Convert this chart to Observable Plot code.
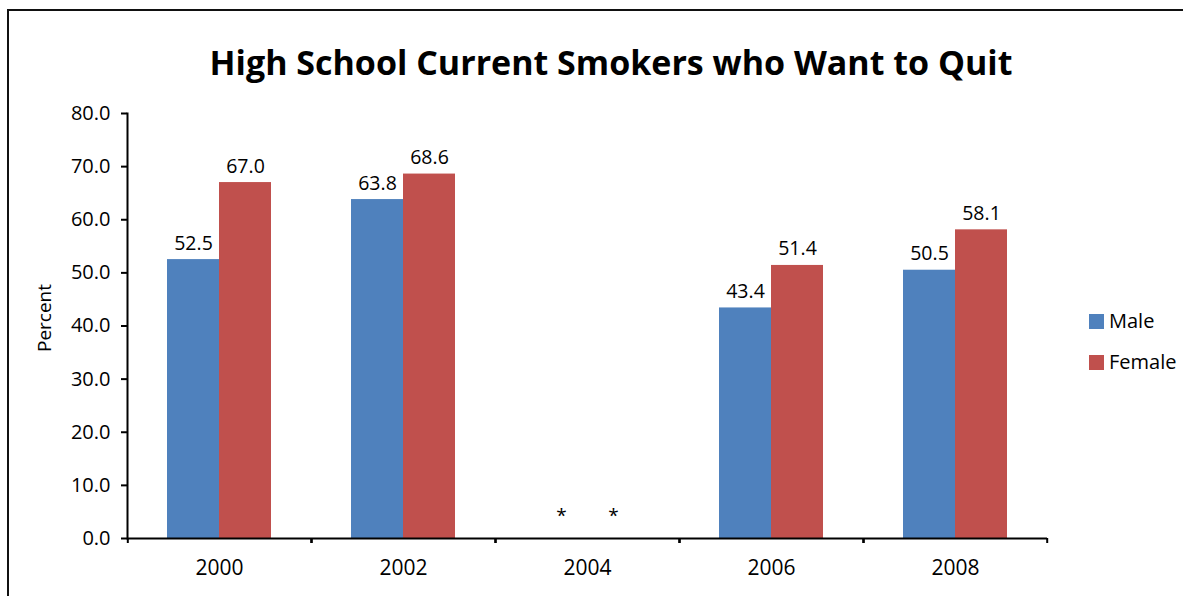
<!DOCTYPE html>
<html>
<head>
<meta charset="utf-8">
<script src="https://cdn.jsdelivr.net/npm/d3@7"></script>
<script src="https://cdn.jsdelivr.net/npm/@observablehq/plot@0.6"></script>
<style>
  html, body { margin: 0; padding: 0; background: #fff; }
  #chart {
    position: relative;
    width: 1183px;
    height: 596px;
    overflow: hidden;
    background: #fff;
    font-family: "Open Sans", "Noto Sans", sans-serif;
    color: #000;
  }
  #chart .frame {
    position: absolute;
    left: 7px;
    top: 9px;
    width: 1300px;
    height: 700px;
    border: 2px solid #111;
    box-sizing: border-box;
  }
  #chart svg { position: absolute; left: 0; top: 0; }
  #chart .title {
    position: absolute;
    left: 611px;
    top: 39px;
    transform: translateX(-50%);
    white-space: nowrap;
    font-size: 34px;
    font-weight: 700;
    line-height: normal;
  }
  #chart .ylabel {
    position: absolute;
    left: -6px;
    top: 305px;
    width: 100px;
    text-align: center;
    font-size: 19px;
    line-height: 26px;
    transform: rotate(-90deg);
    transform-origin: 50% 50%;
  }
  #chart .legend-item {
    position: absolute;
    left: 1089px;
    display: flex;
    align-items: center;
    font-size: 20px;
    line-height: 27px;
    white-space: nowrap;
  }
  #chart .legend-item .swatch {
    width: 15px;
    height: 15px;
    margin-right: 5px;
    margin-top: 1px;
  }
</style>
</head>
<body>
<div id="chart">
  <div class="frame"></div>
  <div class="title">High School Current Smokers who Want to Quit</div>
  <div class="ylabel">Percent</div>
</div>
<script>
// Survey years and the two series (values in percent; 2004 not reported)
const years = ["2000", "2002", "2004", "2006", "2008"];
const series = ["Male", "Female"];
const maleValues = [52.5, 63.8, null, 43.4, 50.5];
const femaleValues = [67.0, 68.6, null, 51.4, 58.1];
const seriesColors = ["#4F81BD", "#C0504D"];
const yTicks = [0, 10, 20, 30, 40, 50, 60, 70, 80];
const missingMark = "*";

const rows = years.flatMap((year, i) => [
  {year, sex: series[0], value: maleValues[i]},
  {year, sex: series[1], value: femaleValues[i]}
]);
const reported = rows.filter(d => d.value != null);
const unreported = rows.filter(d => d.value == null);

// Layout
const W = 1183, H = 596;
const margin = {top: 113, right: 135, bottom: 58, left: 126};
const barWidth = 53;
const facetWidth = (W - margin.left - margin.right) / years.length;
const xPadOuter = (facetWidth / barWidth - series.length) / 2;
const edgeOffset = (facetWidth - barWidth) / 2;

const chart = Plot.plot({
  width: W,
  height: H,
  marginTop: margin.top,
  marginRight: margin.right,
  marginBottom: margin.bottom,
  marginLeft: margin.left,
  style: {
    fontFamily: "'Open Sans', 'Noto Sans', sans-serif",
    fontSize: "19px",
    color: "#000",
    background: "transparent",
    overflow: "visible"
  },
  fx: {domain: years, padding: 0, axis: null, label: null},
  x: {domain: series, paddingInner: 0, paddingOuter: xPadOuter, axis: null, label: null},
  y: {domain: [0, 80], label: null},
  color: {domain: series, range: seriesColors},
  marks: [
    Plot.barY(reported, {fx: "year", x: "sex", y: "value", fill: "sex"}),
    Plot.text(reported, {
      fx: "year", x: "sex", y: "value",
      text: d => d.value.toFixed(1),
      lineAnchor: "bottom", dy: -10, fill: "#000", fontSize: 19.5
    }),
    Plot.text(unreported, {
      fx: "year", x: "sex", y: () => 0,
      text: () => missingMark,
      lineAnchor: "bottom", dy: -17, fill: "#000", fontSize: 19
    }),
    Plot.ruleY([0], {stroke: "#000", strokeWidth: 2}),
    Plot.frame({anchor: "left", stroke: "#000", strokeWidth: 2, facetAnchor: "left"}),
    // category boundary ticks below the baseline
    Plot.ruleX([series[0]], {x: d => d, y1: 0, y2: 0, insetBottom: -5, dx: -edgeOffset, stroke: "#000", strokeWidth: 2}),
    Plot.ruleX([series[1]], {x: d => d, y1: 0, y2: 0, insetBottom: -5, dx: edgeOffset, stroke: "#000", strokeWidth: 2}),
    Plot.axisY({
      ticks: yTicks,
      tickFormat: d => d.toFixed(1),
      tickSize: 6,
      tickPadding: 11,
      strokeWidth: 2,
      fontSize: 20,
      label: null
    }),
    Plot.axisFx({anchor: "bottom", tickSize: 0, tickPadding: 22, fontSize: 21, label: null})
  ]
});

const root = document.getElementById("chart");
root.appendChild(chart);

// Legend
const legendTops = [307, 348];
series.forEach((name, i) => {
  const item = document.createElement("div");
  item.className = "legend-item";
  item.style.top = legendTops[i] + "px";
  const sw = document.createElement("span");
  sw.className = "swatch";
  sw.style.background = seriesColors[i];
  const label = document.createElement("span");
  label.textContent = name;
  item.appendChild(sw);
  item.appendChild(label);
  root.appendChild(item);
});
</script>
</body>
</html>
